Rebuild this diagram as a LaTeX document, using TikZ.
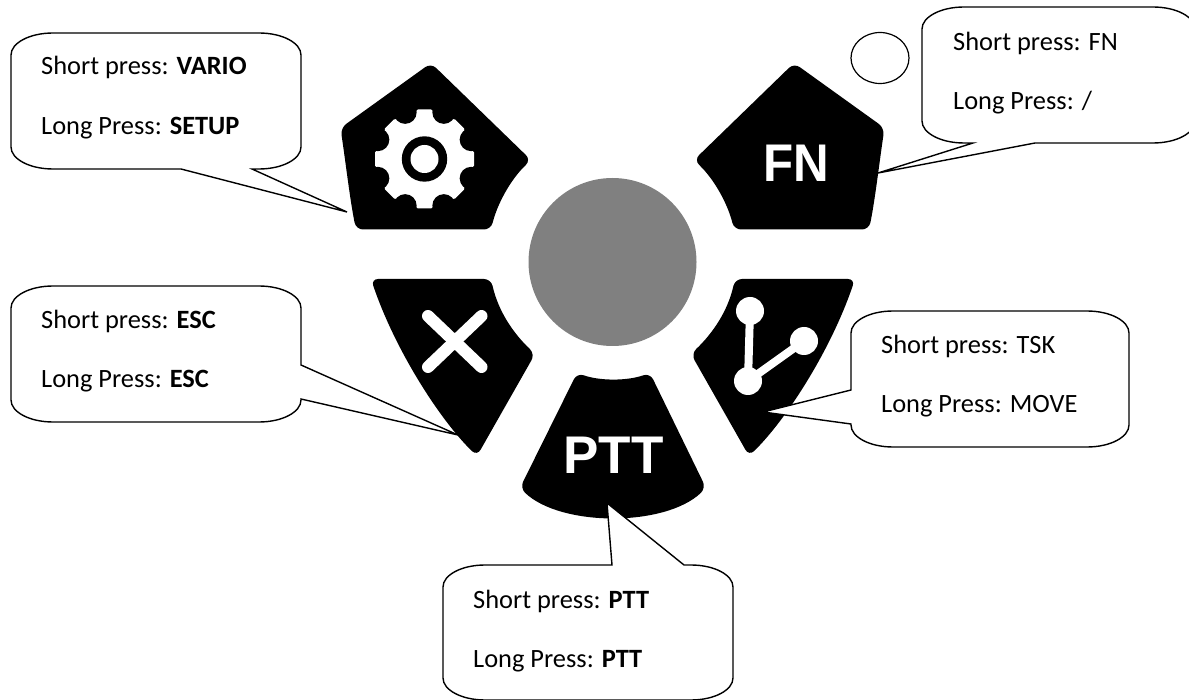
\documentclass[tikz,border=0pt]{standalone}
\usepackage{fontspec}
\usetikzlibrary{calc,shapes.geometric}
\setmainfont{Carlito}
\newfontfamily\iconfont{Liberation Sans}
% #1 L, #2 T, #3 R, #4 B, #5 top, #6 right, #7 bottom, #8 left inserts
\newcommand{\bubblepath}[8]{
  \draw[bubble] (#1,#2+22)
    .. controls +(0,-12.15) and +(-23.2,0) .. (#1+42,#2) #5
    -- (#3-42,#2)
    .. controls +(23.2,0) and +(0,-12.15) .. (#3,#2+22) #6
    -- (#3,#4-22)
    .. controls +(0,12.15) and +(23.2,0) .. (#3-42,#4) #7
    -- (#1+42,#4)
    .. controls +(-23.2,0) and +(0,12.15) .. (#1,#4-22) #8
    -- cycle;
}
\tikzset{
  bubble/.style={draw=black,fill=white,line width=1.4pt,line join=miter},
  icon/.style={fill=black,rounded corners=7pt},
  txt/.style={anchor=base west,inner sep=0pt,font=\fontsize{26.4}{30}\selectfont},
  iconlabel/.style={anchor=base,inner sep=0pt,text=white,font=\iconfont\bfseries\fontsize{53}{60}\selectfont},
  cutline/.style={draw=white,line cap=round},
}
\begin{document}
\begin{tikzpicture}[x=1pt,y=-1pt]
\useasboundingbox (0,0) rectangle (1189,700);
\clip (0,0) rectangle (1189,700);
\fill[white] (0,0) rectangle (1189,700);

% hub
\node[circle,fill={rgb,255:red,128;green,128;blue,128},minimum size=168pt,inner sep=0pt] (hub) at (612.5,262) {};

% gear key
\path[icon] (431,63) -- (340.5,128) .. controls (346,165) and (350,200) .. (356,229.5) -- (491,229.5)
   .. controls (497,205) and (510,180) .. (531,160) -- cycle;
\coordinate (gearc) at (424.5,159);
\fill[white] (gearc) circle[radius=44];
\foreach \a in {0,45,...,315}{
  \fill[white,rotate around={\a:(gearc)},rounded corners=1.5pt] (424.5-11,159-36) -- (424.5-8,159-49.5) -- (424.5+8,159-49.5) -- (424.5+11,159-36) -- cycle;
}
\foreach \a in {22.5,67.5,...,337.5}{
  \fill[black] ($(gearc)+(\a:50.5)$) circle[radius=11.5];
}
\fill[black] (gearc) circle[radius=22.7];
\fill[white] (gearc) circle[radius=14];

% FN key
\path[icon] (794,63) -- (884.5,128) .. controls (879,165) and (875,200) .. (869,229.5) -- (734,229.5)
   .. controls (728,205) and (715,180) .. (694,160) -- cycle;
\node[iconlabel,xscale=0.93] (fn) at (796.5,182) {FN};

% X key
\path[icon] (430,279) -- (491,279) .. controls (498,310) and (512,332) .. (535,354) -- (477,456)
   .. controls (440,420) and (395,350) .. (371,279) -- cycle;
\coordinate (xa) at (428,316);
\coordinate (xb) at (481.5,367);
\coordinate (xc) at (481.5,316);
\coordinate (xd) at (428,367);
\draw[cutline,line width=12pt] (xa) -- (xb);
\draw[cutline,line width=12pt] (xc) -- (xd);

% TSK key
\path[icon] (795,279) -- (735,279) .. controls (728,310) and (714,332) .. (691,354) -- (749,456)
   .. controls (786,420) and (831,350) .. (855,279) -- cycle;
\coordinate (ta) at (750,311);
\coordinate (tb) at (804,341);
\coordinate (tc) at (748,381);
\draw[cutline,line width=8pt] (ta) -- (tc) -- (tb);
\foreach \p in {ta,tb,tc}{\fill[white] (\p) circle[radius=14];}

% PTT key
\path[icon] (548.5,430.5) -- (577,373) .. controls (600,381) and (627,381) .. (650,373) -- (706,488)
   .. controls (665,527) and (561,527) .. (520,488) -- cycle;
\node[iconlabel] (ptt) at (613.5,473) {PTT};

% callouts
\coordinate (tipvario) at (347,212);
\coordinate (tipesc) at (458,435);
\coordinate (tipptt) at (607,503);
\coordinate (tiptsk) at (763,412);
\coordinate (tipfn) at (878,173);

\bubblepath{11}{33}{301}{169}{}{}{-- (252,169) -- (tipvario) -- (181,169)}{}
\bubblepath{11}{286}{301}{422}{}{-- (301,365) -- (tipesc) -- (301,399)}{}{}
\bubblepath{443}{565}{733}{700}{-- (612,565) -- (tipptt) -- (684,565)}{}{}{}
\bubblepath{851}{311}{1129}{447}{}{}{}{-- (851,424) -- (tiptsk) -- (851,390)}
\bubblepath{922}{7}{1195}{143}{}{}{-- (1035,143) -- (tipfn) -- (973,143)}{}

\node[draw=black,line width=1.2pt,fill=white,ellipse,minimum width=58pt,minimum height=51pt,inner sep=0pt] (dot) at (880,58) {};

% labels
\node[txt] (l1a) at (41,75) {Short press: \textbf{VARIO}};
\node[txt] (l1b) at (41,135) {Long Press: \textbf{SETUP}};
\node[txt] (l2a) at (41,329) {Short press: \textbf{ESC}};
\node[txt] (l2b) at (41,388) {Long Press: \textbf{ESC}};
\node[txt] (l3a) at (473,608) {Short press: \textbf{PTT}};
\node[txt] (l3b) at (473,667) {Long Press: \textbf{PTT}};
\node[txt] (l4a) at (881,354) {Short press: TSK};
\node[txt] (l4b) at (881,413) {Long Press: MOVE};
\node[txt] (l5a) at (953,51) {Short press: FN};
\node[txt] (l5b) at (953,110) {Long Press: /};
\end{tikzpicture}
\end{document}
